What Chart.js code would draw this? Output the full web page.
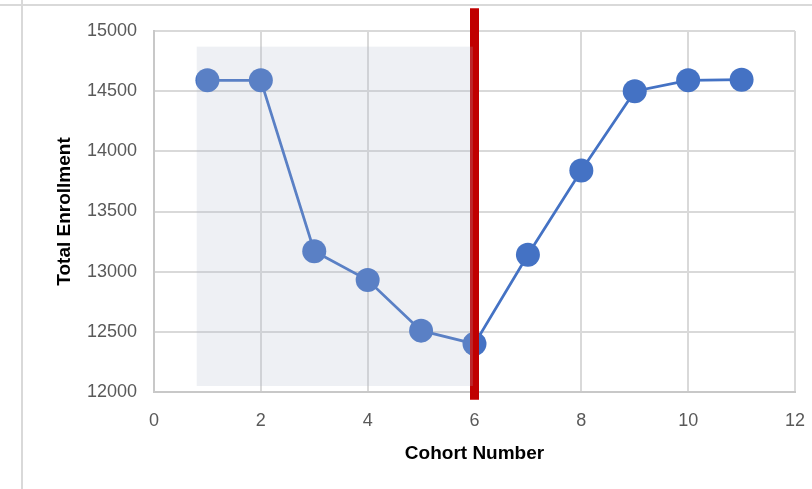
<!DOCTYPE html>
<html>
<head>
<meta charset="utf-8">
<script src="https://cdn.jsdelivr.net/npm/chart.js@4"></script>
<style>
  body { margin: 0; background: #fff; }
  #wrap { position: relative; width: 812px; height: 489px; overflow: hidden; }
  #chart { position: absolute; left: 0; top: 0; }
  .hline { position: absolute; left: 0; top: 4px; width: 812px; height: 2px; background: #d9d9d9; }
  .vline { position: absolute; left: 21px; top: 0; width: 2px; height: 489px; background: #d9d9d9; }
</style>
</head>
<body>
<div id="wrap">
  <div class="hline"></div>
  <div class="vline"></div>
  <canvas id="chart" width="812" height="489"></canvas>
</div>
<script>
// cohort numbers and total enrollment
const cohorts = [1, 2, 3, 4, 5, 6, 7, 8, 9, 10, 11];
const enrollment = [14590, 14590, 13170, 12930, 12510, 12400, 13140, 13840, 14500, 14590, 14595];

// shaded "before" window and the red marker at cohort 6
const shadeX = [0.8, 5.97];
const shadeY = [12050, 14870];
const markerX = 6;
const markerY = [11935, 15190];

const xTicks = [0, 2, 4, 6, 8, 10, 12];
const yTicks = [12000, 12500, 13000, 13500, 14000, 14500, 15000];

const overlayPlugin = {
    id: 'overlay',
    afterDatasetsDraw(chart) {
        const ctx = chart.ctx;
        const x = chart.scales.x;
        const y = chart.scales.y;
        ctx.save();
        // red marker line
        ctx.strokeStyle = '#c00000';
        ctx.lineWidth = 9;
        ctx.beginPath();
        ctx.moveTo(x.getPixelForValue(markerX), y.getPixelForValue(markerY[1]));
        ctx.lineTo(x.getPixelForValue(markerX), y.getPixelForValue(markerY[0]));
        ctx.stroke();
        // translucent shaded window on top
        const x0 = x.getPixelForValue(shadeX[0]);
        const x1 = x.getPixelForValue(shadeX[1]);
        const y0 = y.getPixelForValue(shadeY[1]);
        const y1 = y.getPixelForValue(shadeY[0]);
        ctx.fillStyle = 'rgba(176, 184, 203, 0.21)';
        ctx.fillRect(x0, y0, x1 - x0, y1 - y0);
        ctx.restore();
    }
};

const tickFont = { family: 'Liberation Sans', size: 18 };
const titleFont = { family: 'Liberation Sans', size: 19, weight: 'bold' };

new Chart(document.getElementById('chart'), {
    type: 'line',
    data: {
        datasets: [{
            data: cohorts.map((c, i) => ({ x: c, y: enrollment[i] })),
            borderColor: '#4472c4',
            backgroundColor: '#4472c4',
            borderWidth: 2.75,
            pointRadius: 12,
            pointHoverRadius: 12,
            pointBorderWidth: 0,
            tension: 0
        }]
    },
    options: {
        responsive: false,
        animation: false,
        events: [],
        layout: { padding: { top: 31, right: 17, left: 0, bottom: 0 } },
        plugins: { legend: { display: false }, tooltip: { enabled: false } },
        scales: {
            x: {
                type: 'linear',
                min: 0, max: 12,
                afterBuildTicks: axis => { axis.ticks = xTicks.map(v => ({ value: v })); },
                afterFit: axis => { axis.height = 97; axis.paddingLeft = 0; axis.paddingRight = 0; },
                grid: { color: '#d9d9d9', lineWidth: 2, drawTicks: false },
                border: { color: '#c8c8c8', width: 2 },
                ticks: { color: '#595959', font: tickFont, padding: 18, callback: v => String(v) },
                title: { display: true, text: 'Cohort Number', color: '#000', font: titleFont, padding: { top: 0, bottom: 24 } }
            },
            y: {
                min: 12000, max: 15000,
                afterBuildTicks: axis => { axis.ticks = yTicks.map(v => ({ value: v })); },
                afterFit: axis => { axis.width = 154; axis.paddingTop = 0; axis.paddingBottom = 0; },
                grid: { color: '#d9d9d9', lineWidth: 2, drawTicks: false },
                border: { color: '#c8c8c8', width: 2 },
                ticks: { color: '#595959', font: tickFont, padding: 17, callback: v => String(v) },
                title: { display: true, text: 'Total Enrollment', color: '#000', font: titleFont, padding: { top: 53, bottom: 0 } }
            }
        }
    },
    plugins: [overlayPlugin]
});
</script>
</body>
</html>
